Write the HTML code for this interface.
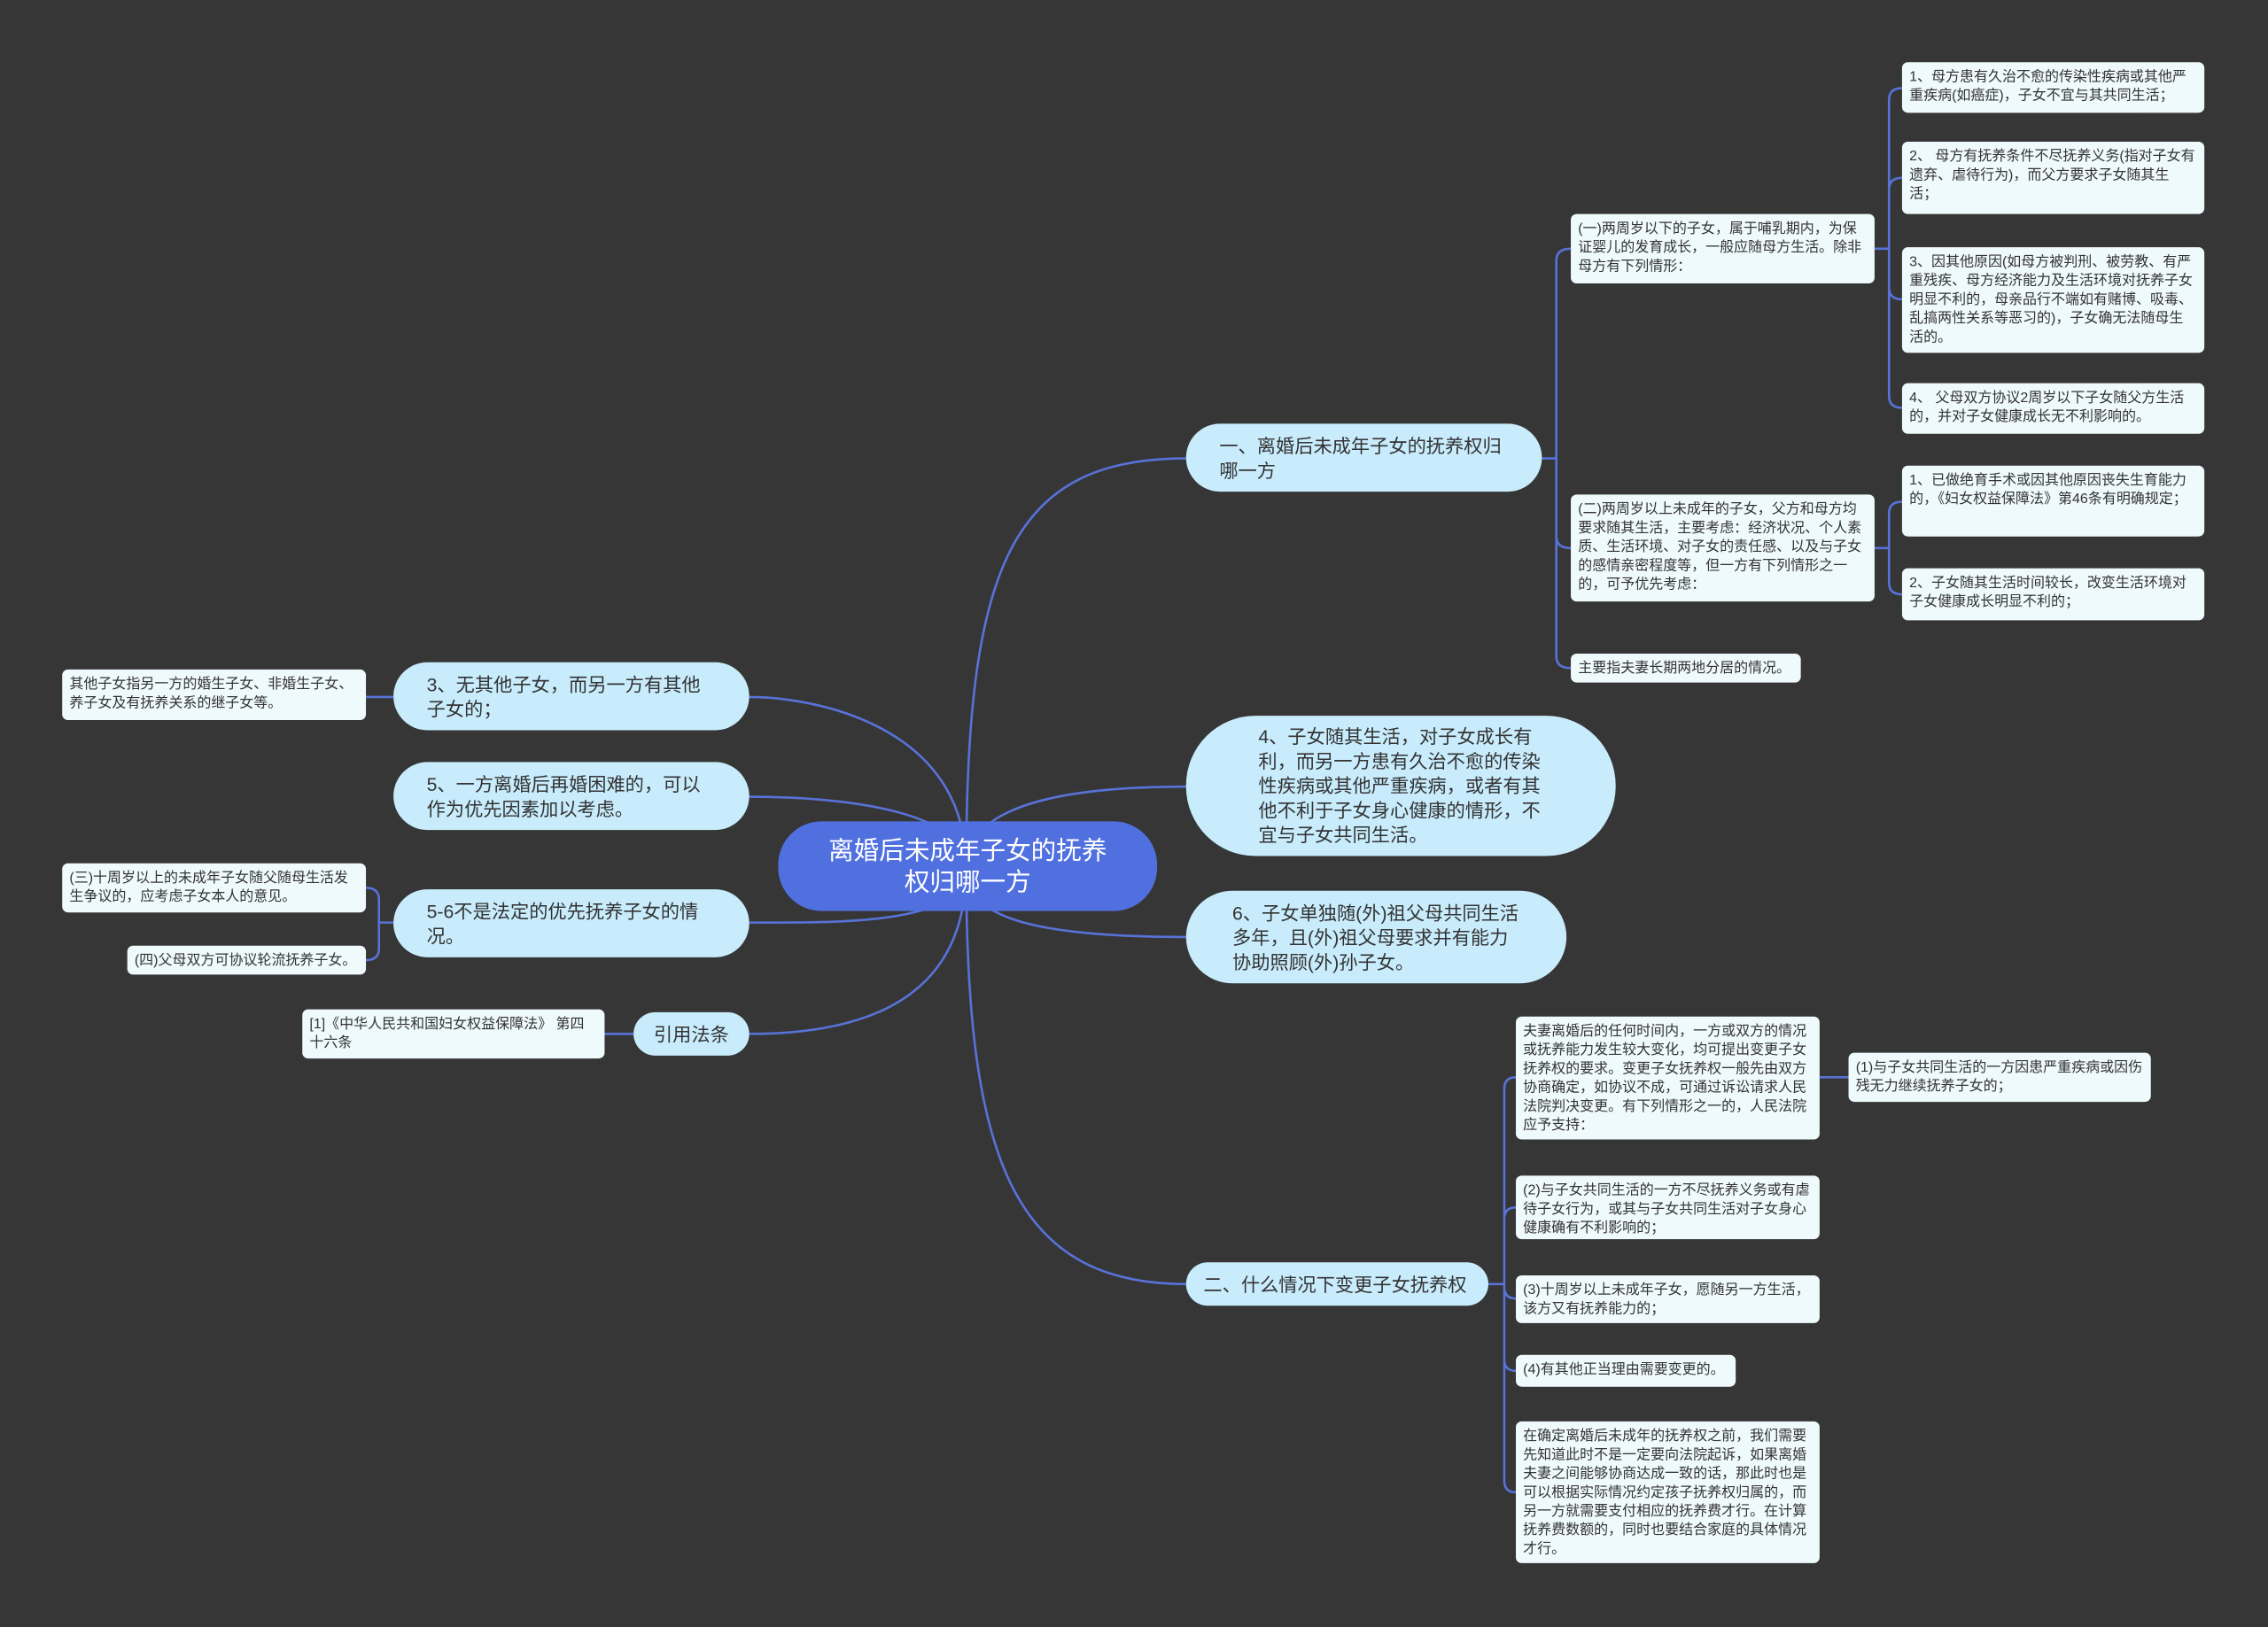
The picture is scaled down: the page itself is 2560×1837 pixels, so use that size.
<!DOCTYPE html>
<html><head><meta charset="utf-8"><style>
html,body{margin:0;padding:0;background:#363636;}
#wrap{position:relative;width:1568px;height:1125px;transform:scale(1.63265);transform-origin:0 0;background:#363636;overflow:hidden;font-family:"Liberation Sans","Noto Sans CJK SC",sans-serif;}
.n{position:absolute;box-sizing:border-box;}
.root{background:#5170e0;color:#fff;border-radius:30px;font-size:17.5px;line-height:22px;text-align:center;display:flex;align-items:center;justify-content:center;padding:0 34px;}
.l1{background:#c8ecfc;color:#333;border-radius:24px;font-size:13px;line-height:17px;display:flex;align-items:center;padding:0 24px 0 23px;}
.l2{background:#effafc;color:#333;border-radius:4px;font-size:9.8px;line-height:13px;padding:4px 5px;}
svg{position:absolute;left:0;top:0;}
</style></head><body><div id="wrap">
<svg width="1568" height="1125" fill="none" stroke="#5872d8" stroke-width="1.6">
<path d="M668 600 C668 390 700 317 820 317"/>
<path d="M668 600 C668 500 560 482 518 482"/>
<path d="M668 600 C668 560 580 551 518 551"/>
<path d="M668 600 C668 640 580 638 518 638"/>
<path d="M668 600 C668 690 600 715 518 715"/>
<path d="M668 600 C668 570 700 544 820 544"/>
<path d="M668 600 C668 630 700 648 820 648"/>
<path d="M668 600 C668 800 700 888 820 888"/>
<path d="M1066 317 H1076 M1076 317 V180 Q1076 172 1086 172 M1076 317 V371 Q1076 379 1086 379 M1076 317 V454 Q1076 462 1086 462"/>
<path d="M1296 172 H1306 M1306 172 V69 Q1306 61 1315 61 M1306 172 V131 Q1306 123 1315 123 M1306 172 V199 Q1306 207 1315 207 M1306 172 V274 Q1306 282 1315 282"/>
<path d="M1296 379 H1306 M1306 379 V355 Q1306 347 1315 347 M1306 379 V403 Q1306 411 1315 411"/>
<path d="M272 482 H253"/>
<path d="M272 638 H262 M262 638 V622 Q262 614 253 614 M262 638 V656 Q262 664 253 664"/>
<path d="M438 715 H418"/>
<path d="M1029 888 H1040 M1040 888 V753 Q1040 745 1048 745 M1040 888 V843 Q1040 835 1048 835 M1040 888 V890 Q1040 898 1048 898 M1040 888 V940 Q1040 948 1048 948 M1040 888 V1024 Q1040 1032 1048 1032"/>
<path d="M1258 745 H1278"/>
</svg>

<div class="n root" style="left:538px;top:568px;width:262px;height:62px;">离婚后未成年子女的抚养权归哪一方</div>

<div class="n l1" style="left:820px;top:293px;width:246px;height:47px;">一、离婚后未成年子女的抚养权归哪一方</div>
<div class="n l1" style="left:272px;top:458px;width:246px;height:47px;">3、无其他子女，而另一方有其他子女的；</div>
<div class="n l1" style="left:272px;top:527px;width:246px;height:47px;">5、一方离婚后再婚困难的，可以作为优先因素加以考虑。</div>
<div class="n l1" style="left:272px;top:615px;width:246px;height:47px;">5-6不是法定的优先抚养子女的情况。</div>
<div class="n l1" style="left:438px;top:700px;width:80px;height:30px;padding:0;justify-content:center;">引用法条</div>
<div class="n l1" style="left:820px;top:495px;width:297px;height:97px;padding:0 50px;border-radius:48px;">4、子女随其生活，对子女成长有利，而另一方患有久治不愈的传染性疾病或其他严重疾病，或者有其他不利于子女身心健康的情形，不宜与子女共同生活。</div>
<div class="n l1" style="left:820px;top:616px;width:263px;height:64px;padding:0 30px 0 32px;border-radius:32px;">6、子女单独随(外)祖父母共同生活多年，且(外)祖父母要求并有能力协助照顾(外)孙子女。</div>
<div class="n l1" style="left:820px;top:873px;width:209px;height:30px;padding:0 12px;">二、什么情况下变更子女抚养权</div>

<div class="n l2" style="left:1086px;top:148px;width:210px;height:48px;">(一)两周岁以下的子女，属于哺乳期内，为保证婴儿的发育成长，一般应随母方生活。除非母方有下列情形：</div>
<div class="n l2" style="left:1086px;top:342px;width:210px;height:74px;">(二)两周岁以上未成年的子女，父方和母方均要求随其生活，主要考虑：经济状况、个人素质、生活环境、对子女的责任感、以及与子女的感情亲密程度等，但一方有下列情形之一的，可予优先考虑：</div>
<div class="n l2" style="left:1086px;top:452px;width:159px;height:20px;">主要指夫妻长期两地分居的情况。</div>
<div class="n l2" style="left:1315px;top:43px;width:209px;height:35px;">1、母方患有久治不愈的传染性疾病或其他严重疾病(如癌症)，子女不宜与其共同生活；</div>
<div class="n l2" style="left:1315px;top:98px;width:209px;height:50px;">2、 母方有抚养条件不尽抚养义务(指对子女有遗弃、虐待行为)，而父方要求子女随其生活；</div>
<div class="n l2" style="left:1315px;top:171px;width:209px;height:73px;">3、因其他原因(如母方被判刑、被劳教、有严重残疾、母方经济能力及生活环境对抚养子女明显不利的，母亲品行不端如有赌博、吸毒、乱搞两性关系等恶习的)，子女确无法随母生活的。</div>
<div class="n l2" style="left:1315px;top:265px;width:209px;height:35px;">4、 父母双方协议2周岁以下子女随父方生活的，并对子女健康成长无不利影响的。</div>
<div class="n l2" style="left:1315px;top:322px;width:209px;height:49px;">1、已做绝育手术或因其他原因丧失生育能力的，《妇女权益保障法》第46条有明确规定；</div>
<div class="n l2" style="left:1315px;top:393px;width:209px;height:36px;">2、子女随其生活时间较长，改变生活环境对子女健康成长明显不利的；</div>

<div class="n l2" style="left:43px;top:463px;width:210px;height:35px;">其他子女指另一方的婚生子女、非婚生子女、养子女及有抚养关系的继子女等。</div>
<div class="n l2" style="left:43px;top:597px;width:210px;height:34px;">(三)十周岁以上的未成年子女随父随母生活发生争议的，应考虑子女本人的意见。</div>
<div class="n l2" style="left:88px;top:654px;width:165px;height:20px;">(四)父母双方可协议轮流抚养子女。</div>
<div class="n l2" style="left:209px;top:698px;width:209px;height:34px;">[1]《中华人民共和国妇女权益保障法》 第四十六条</div>

<div class="n l2" style="left:1048px;top:703px;width:210px;height:85px;">夫妻离婚后的任何时间内，一方或双方的情况或抚养能力发生较大变化，均可提出变更子女抚养权的要求。变更子女抚养权一般先由双方协商确定，如协议不成，可通过诉讼请求人民法院判决变更。有下列情形之一的，人民法院应予支持：</div>
<div class="n l2" style="left:1278px;top:728px;width:209px;height:34px;">(1)与子女共同生活的一方因患严重疾病或因伤残无力继续抚养子女的；</div>
<div class="n l2" style="left:1048px;top:813px;width:210px;height:44px;">(2)与子女共同生活的一方不尽抚养义务或有虐待子女行为，或其与子女共同生活对子女身心健康确有不利影响的；</div>
<div class="n l2" style="left:1048px;top:882px;width:210px;height:33px;">(3)十周岁以上未成年子女，愿随另一方生活，该方又有抚养能力的；</div>
<div class="n l2" style="left:1048px;top:937px;width:152px;height:22px;">(4)有其他正当理由需要变更的。</div>
<div class="n l2" style="left:1048px;top:983px;width:210px;height:98px;">在确定离婚后未成年的抚养权之前，我们需要先知道此时不是一定要向法院起诉，如果离婚夫妻之间能够协商达成一致的话，那此时也是可以根据实际情况约定孩子抚养权归属的，而另一方就需要支付相应的抚养费才行。在计算抚养费数额的，同时也要结合家庭的具体情况才行。</div>
</div></body></html>
